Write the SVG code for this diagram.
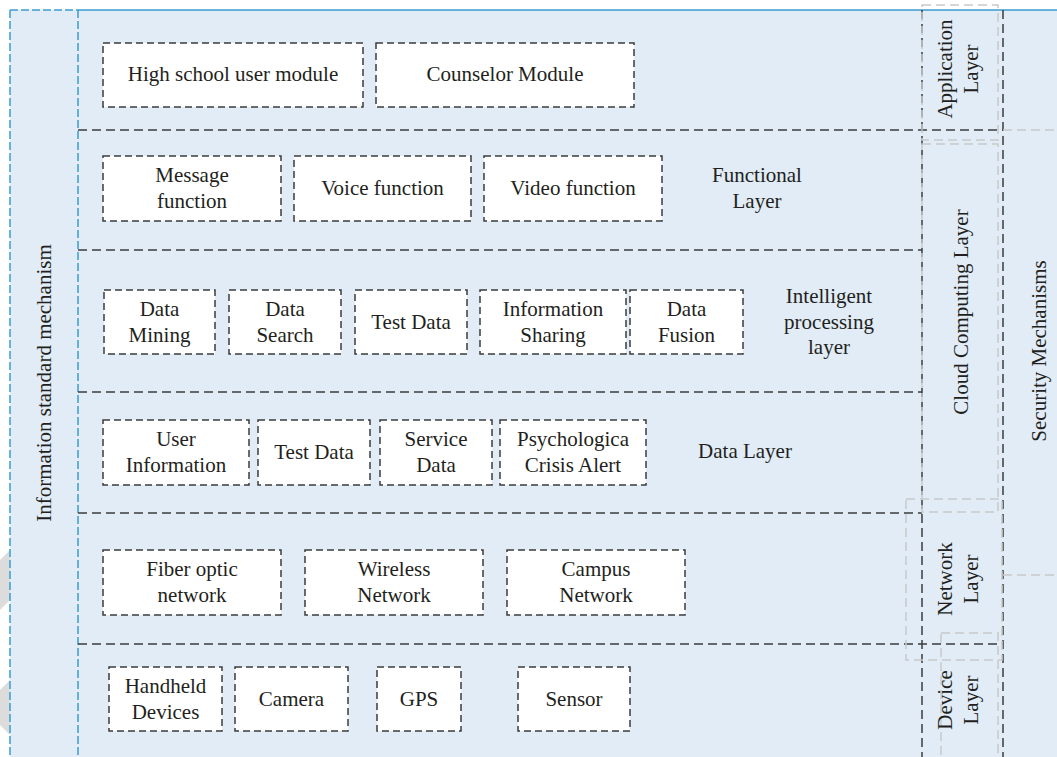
<svg xmlns="http://www.w3.org/2000/svg" width="1057" height="757" viewBox="0 0 1057 757">
  <style>
    text { font-family: "Liberation Serif", "Times New Roman", serif; font-size: 21px; fill: #231f20; text-anchor: middle; }
    .box { fill: #ffffff; stroke: #3d3d3d; stroke-width: 1.5; stroke-dasharray: 7 4; }
    .sep { fill: none; stroke: #3d3d3d; stroke-width: 1.5; stroke-dasharray: 9 5; }
    .light { fill: none; stroke: #c9c9c9; stroke-width: 1.5; stroke-dasharray: 9 5; }
    .blue { fill: none; stroke: #3b9cce; stroke-width: 1.5; stroke-dasharray: 8 3; }
  </style>

  <!-- page and faint background marks -->
  <rect width="1057" height="757" fill="#ffffff"/>
  <polygon points="0,560 10,550 10,600 0,610" fill="#dcdcdc"/>
  <polygon points="0,690 10,680 10,735 0,725" fill="#dcdcdc"/>

  <!-- diagram panel -->
  <rect x="10" y="10" width="1047" height="747" fill="#e1ecf6"/>
  <line x1="78" y1="10" x2="1057" y2="10" stroke="#3b9cce" stroke-width="1.5"/>
  <g id="frame" class="blue">
    <line x1="10" y1="10" x2="78" y2="10"/>
    <line x1="10" y1="10" x2="10" y2="757"/>
    <line x1="78" y1="10" x2="78" y2="757"/>
  </g>

  <!-- layer grid -->
  <g id="connectors">
    <line class="sep" x1="78" y1="130" x2="1003" y2="130"/>
    <line class="sep" x1="78" y1="250" x2="922" y2="250"/>
    <line class="sep" x1="78" y1="392" x2="922" y2="392"/>
    <line class="sep" x1="78" y1="513" x2="922" y2="513"/>
    <line class="sep" x1="78" y1="644" x2="1003" y2="644"/>
    <line class="sep" x1="922" y1="10" x2="922" y2="757"/>
    <line class="sep" x1="1003" y1="10" x2="1003" y2="757"/>
    <line class="light" x1="1003" y1="130" x2="1057" y2="130"/>
    <line class="light" x1="1003" y1="575" x2="1057" y2="575"/>
  </g>

  <!-- side layer label frames -->
  <g id="side-frames" class="light">
    <rect x="922" y="5" width="76" height="135"/>
    <rect x="922" y="144" width="76" height="368"/>
    <rect x="906" y="499" width="96" height="161"/>
    <rect x="941" y="633" width="57" height="130"/>
  </g>

  <g id="info-standard">
    <text transform="translate(51,383) rotate(-90)">Information standard mechanism</text>
  </g>
  <g id="application-layer">
    <text transform="translate(952,69) rotate(-90)">Application</text>
    <text transform="translate(978,69) rotate(-90)">Layer</text>
  </g>
  <g id="cloud-layer">
    <text transform="translate(968,312) rotate(-90)">Cloud Computing Layer</text>
  </g>
  <g id="security">
    <text transform="translate(1046,351) rotate(-90)">Security Mechanisms</text>
  </g>
  <g id="network-layer">
    <text transform="translate(952,579) rotate(-90)">Network</text>
    <text transform="translate(978,579) rotate(-90)">Layer</text>
  </g>
  <g id="device-layer">
    <text transform="translate(952,700) rotate(-90)">Device</text>
    <text transform="translate(978,700) rotate(-90)">Layer</text>
  </g>

  <!-- application layer -->
  <g id="high-school">
    <rect class="box" x="103" y="43" width="260" height="64"/>
    <text x="233" y="81">High school user module</text>
  </g>
  <g id="counselor">
    <rect class="box" x="376" y="43" width="258" height="64"/>
    <text x="505" y="81">Counselor Module</text>
  </g>

  <!-- functional layer -->
  <g id="message">
    <rect class="box" x="103" y="156" width="178" height="65"/>
    <text x="192" y="182">Message</text>
    <text x="192" y="208">function</text>
  </g>
  <g id="voice">
    <rect class="box" x="294" y="156" width="177" height="65"/>
    <text x="382.5" y="195">Voice function</text>
  </g>
  <g id="video">
    <rect class="box" x="484" y="156" width="178" height="65"/>
    <text x="573" y="195">Video function</text>
  </g>
  <g id="functional-label">
    <text x="757" y="182">Functional</text>
    <text x="757" y="208">Layer</text>
  </g>

  <!-- intelligent processing layer -->
  <g id="data-mining">
    <rect class="box" x="104" y="290" width="111" height="64"/>
    <text x="159.5" y="316">Data</text>
    <text x="159.5" y="342">Mining</text>
  </g>
  <g id="data-search">
    <rect class="box" x="229" y="290" width="112" height="64"/>
    <text x="285" y="316">Data</text>
    <text x="285" y="342">Search</text>
  </g>
  <g id="test-data-1">
    <rect class="box" x="355" y="290" width="112" height="64"/>
    <text x="411" y="329">Test Data</text>
  </g>
  <g id="info-sharing">
    <rect class="box" x="480" y="290" width="146" height="64"/>
    <text x="553" y="316">Information</text>
    <text x="553" y="342">Sharing</text>
  </g>
  <g id="data-fusion">
    <rect class="box" x="630" y="290" width="113" height="64"/>
    <text x="686.5" y="316">Data</text>
    <text x="686.5" y="342">Fusion</text>
  </g>
  <g id="intelligent-label">
    <text x="829" y="303">Intelligent</text>
    <text x="829" y="329">processing</text>
    <text x="829" y="354">layer</text>
  </g>

  <!-- data layer -->
  <g id="user-info">
    <rect class="box" x="103" y="420" width="146" height="65"/>
    <text x="176" y="446">User</text>
    <text x="176" y="472">Information</text>
  </g>
  <g id="test-data-2">
    <rect class="box" x="258" y="420" width="112" height="65"/>
    <text x="314" y="459">Test Data</text>
  </g>
  <g id="service-data">
    <rect class="box" x="380" y="420" width="112" height="65"/>
    <text x="436" y="446">Service</text>
    <text x="436" y="472">Data</text>
  </g>
  <g id="crisis-alert">
    <rect class="box" x="500" y="420" width="146" height="65"/>
    <text x="573" y="446">Psychologica</text>
    <text x="573" y="472">Crisis Alert</text>
  </g>
  <g id="data-label">
    <text x="745" y="458">Data Layer</text>
  </g>

  <!-- network layer -->
  <g id="fiber">
    <rect class="box" x="103" y="550" width="178" height="65"/>
    <text x="192" y="576">Fiber optic</text>
    <text x="192" y="602">network</text>
  </g>
  <g id="wireless">
    <rect class="box" x="305" y="550" width="178" height="65"/>
    <text x="394" y="576">Wireless</text>
    <text x="394" y="602">Network</text>
  </g>
  <g id="campus">
    <rect class="box" x="507" y="550" width="178" height="65"/>
    <text x="596" y="576">Campus</text>
    <text x="596" y="602">Network</text>
  </g>

  <!-- device layer -->
  <g id="handheld">
    <rect class="box" x="109" y="667" width="113" height="64"/>
    <text x="165.5" y="693">Handheld</text>
    <text x="165.5" y="719">Devices</text>
  </g>
  <g id="camera">
    <rect class="box" x="235" y="667" width="113" height="64"/>
    <text x="291.5" y="706">Camera</text>
  </g>
  <g id="gps">
    <rect class="box" x="377" y="667" width="84" height="64"/>
    <text x="419" y="706">GPS</text>
  </g>
  <g id="sensor">
    <rect class="box" x="518" y="667" width="112" height="64"/>
    <text x="574" y="706">Sensor</text>
  </g>
</svg>
